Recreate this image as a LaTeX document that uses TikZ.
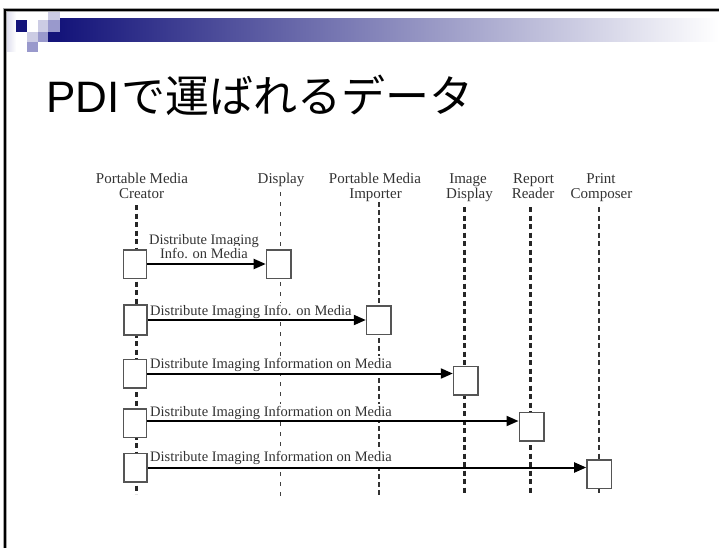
\documentclass[tikz,border=0pt]{standalone}
\usepackage{fontspec}
\setmainfont{Liberation Serif}
\newfontfamily\jpfont{Noto Sans CJK JP}
\newfontfamily\latfont{Liberation Sans}
\usetikzlibrary{arrows.meta}
\definecolor{navy}{HTML}{14147A}
\definecolor{medsq}{HTML}{9999CC}
\definecolor{lightsq}{HTML}{CCCCE4}
\definecolor{barmid}{HTML}{B0B0CA}
\definecolor{ink}{HTML}{333333}
\definecolor{boxline}{HTML}{555555}
\begin{document}
\begin{tikzpicture}[x=1pt,y=-1pt,
  actor/.style={font=\fontsize{15}{15}\selectfont, text=ink, inner sep=0pt, anchor=base},
  msglbl/.style={font=\fontsize{14.5}{14.5}\selectfont, text=ink, fill=white, inner xsep=1pt, inner ysep=2pt},
  actbox/.style={draw=boxline, line width=1.5pt, fill=white, minimum width=23pt, minimum height=28.5pt, inner sep=0pt},
  tgtbox/.style={actbox, minimum width=24.5pt},
  msg/.style={draw=black, line width=2pt, -{Triangle[length=12pt,width=10pt]}},
  lifethick/.style={draw=black!85, line width=2.5pt, dash pattern=on 5pt off 3.5pt},
  lifemid/.style={draw=black!80, line width=1.8pt, dash pattern=on 5pt off 3.5pt},
  lifethin/.style={draw=black!75, line width=1.3pt, dash pattern=on 4pt off 6pt}
]
\useasboundingbox (0,0) rectangle (719,548);
\fill[white] (0,0) rectangle (719,548);

% ---- header ----
\shade[left color=lightsq!70, right color=white] (6,11) rectangle (16,52);
\shade[left color=navy, middle color=barmid, right color=white] (60,19) rectangle (719,42);
\fill[navy] (48,32) rectangle (60,42);
\fill[lightsq] (48,11) rectangle (60,20);
\fill[navy] (16,20) rectangle (27,32);
\fill[lightsq] (38,20) rectangle (48,32);
\fill[medsq] (48,20) rectangle (60,32);
\fill[lightsq] (27,32) rectangle (38,42);
\fill[medsq] (38,32) rectangle (48,42);
\fill[medsq] (27,42) rectangle (38,52);
\draw[black!35, line width=3.5pt] (5,548) -- (5,10) -- (719,10);
\draw[black, line width=2pt] (5,548) -- (5,10) -- (719,10);

% ---- title ----
\node[anchor=base west, inner sep=0pt, font=\jpfont\fontsize{44}{44}\selectfont] (title) at (46,113) {{\latfont PDI}\kern2pt で運ばれるデータ};

% ---- actors ----
\node[actor] (a1a) at (142,183) {Portable Media};
\node[actor] (a1b) at (141.5,198) {Creator};
\node[actor] (a2) at (281,183) {Display};
\node[actor] (a3a) at (375,183) {Portable Media};
\node[actor] (a3b) at (375.5,198) {Importer};
\node[actor] (a4a) at (468,183) {Image};
\node[actor] (a4b) at (469.5,198) {Display};
\node[actor] (a5a) at (533.5,183) {Report};
\node[actor] (a5b) at (533,198) {Reader};
\node[actor] (a6a) at (601,183) {Print};
\node[actor] (a6b) at (601.5,198) {Composer};

% ---- lifelines ----
\coordinate (l1t) at (136.7,205); \coordinate (l1b) at (136.7,494);
\coordinate (l2t) at (280.7,192); \coordinate (l2b) at (280.7,497);
\coordinate (l3t) at (379,202);   \coordinate (l3b) at (379,497);
\coordinate (l4t) at (464.5,207); \coordinate (l4b) at (464.5,494);
\coordinate (l5t) at (530.7,207); \coordinate (l5b) at (530.7,494);
\coordinate (l6t) at (598.8,207); \coordinate (l6b) at (598.8,494);
\draw[lifethick] (l1t) -- (l1b);
\draw[lifethin] (l2t) -- (l2b);
\draw[lifemid, line width=1.5pt, dash pattern=on 5pt off 3pt] (l3t) -- (l3b);
\draw[lifethick] (l4t) -- (l4b);
\draw[lifethick] (l5t) -- (l5b);
\draw[lifemid] (l6t) -- (l6b);

% ---- message labels ----
\node[msglbl, anchor=base] (m1a) at (204,244) {Distribute Imaging};
\node[msglbl, anchor=base] (m1b) at (204,258.5) {Info. on Media};
\node[msglbl, anchor=base west] (m2) at (149,315) {Distribute Imaging Info. on Media};
\node[msglbl, anchor=base west] (m3) at (149,368) {Distribute Imaging Information on Media};
\node[msglbl, anchor=base west] (m4) at (149,416) {Distribute Imaging Information on Media};
\node[msglbl, anchor=base west] (m5) at (149,461.7) {Distribute Imaging Information on Media};

% ---- activation boxes ----
\node[actbox] (s1) at (135,264) {};
\node[actbox, minimum height=30pt] (s2) at (135.3,320) {};
\node[actbox] (s3) at (135,373.5) {};
\node[actbox] (s4) at (135,423.3) {};
\node[actbox] (s5) at (135.5,467.5) {};
\node[tgtbox] (t1) at (278.7,264) {};
\node[tgtbox] (t2) at (378.8,320) {};
\node[tgtbox] (t3) at (465.8,380.8) {};
\node[tgtbox] (t4) at (531.5,426.5) {};
\node[tgtbox] (t5) at (599.2,474.2) {};

% ---- messages ----
\draw[msg] (s1.east) -- (s1.east -| t1.west);
\draw[msg] (s2.east) -- (s2.east -| t2.west);
\draw[msg] (s3.east) -- (s3.east -| t3.west);
\draw[msg] (s4.east |- 0,421) -- (t4.west |- 0,421);
\draw[msg] (s5.east) -- (s5.east -| t5.west);
\end{tikzpicture}
\end{document}
